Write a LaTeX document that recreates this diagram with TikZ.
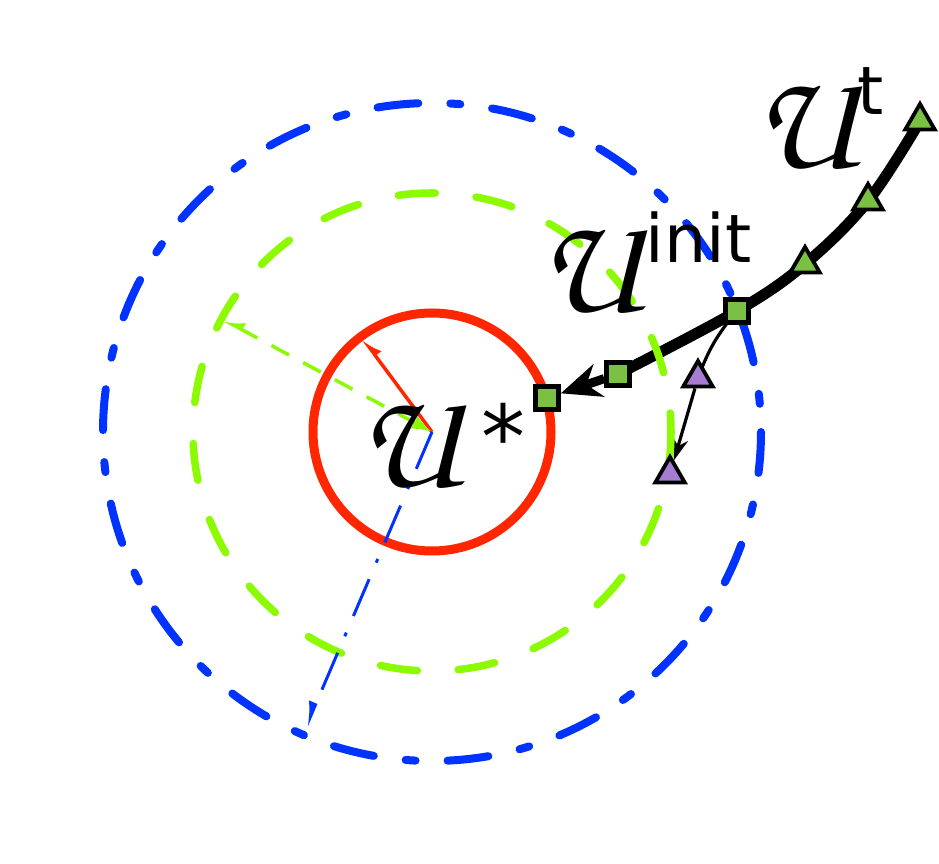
\documentclass[tikz,border=0pt]{standalone}
\usepackage{fontspec}
\newfontfamily\supsf{DejaVu Sans}
\usepackage{tikz}
\usetikzlibrary{arrows.meta}
\usetikzlibrary{shapes.geometric}

\definecolor{ringred}{RGB}{255,38,0}
\definecolor{ringgreen}{RGB}{140,250,0}
\definecolor{ringblue}{RGB}{0,51,255}
\definecolor{markgreen}{RGB}{122,193,67}
\definecolor{markpurple}{RGB}{166,124,210}

\newcommand{\calU}{{\usefont{OT1}{pzc}{mb}{it}U}}
\newcommand{\supf}{\supsf\fontsize{19}{22}\selectfont}

\pgfdeclarelayer{back}
\pgfsetlayers{back,main}

\tikzset{
    sqmark/.style={draw, line width=0.045cm, fill=markgreen, minimum size=0.23cm, inner sep=0pt},
    trimark/.style={draw, line width=0.038cm, regular polygon, regular polygon sides=3,
        minimum size=0.34cm, inner sep=0pt},
    lbl/.style={inner sep=0pt, anchor=base west, font=\fontsize{40}{44}\selectfont},
}

\begin{document}
\begin{tikzpicture}[x=0.01cm, y=-0.01cm]
            \useasboundingbox (0, 0) rectangle (939, 864);
            \coordinate (ustar) at (432, 432);

            % level sets round U*
            \draw[ringblue, line width=0.08cm, line cap=round,
                dash pattern=on 0.41cm off 0.32cm on 0.1cm off 0.32cm] (ustar) circle [radius=329];
            \draw[ringgreen, line width=0.075cm, line cap=round,
                dash pattern=on 0.37cm off 0.41cm] (ustar) circle [radius=239];
            \draw[ringred, line width=0.09cm] (ustar) circle [radius=119];

            % radii
            \coordinate (rtip) at (363, 339);
            \coordinate (gtip) at (224, 320);
            \coordinate (btip) at (306, 727);
            \draw[ringred, line width=0.035cm, -{Latex[harpoon, swap, length=0.16cm, width=0.16cm]}]
                (ustar) -- (rtip);
            \draw[ringgreen, line width=0.035cm, dash pattern=on 0.2cm off 0.16cm,
                {Latex[length=0.2cm, width=0.14cm]}-{Latex[harpoon, swap, length=0.16cm, width=0.16cm]}]
                (ustar) -- (gtip);
            \draw[ringblue, line width=0.03cm, dash pattern=on 0.4cm off 0.18cm on 0.04cm off 0.18cm,
                -{Latex[harpoon, swap, length=0.2cm, width=0.16cm]}] (ustar) -- (btip);

            % iterates
            \node[sqmark] (s1) at (737, 311) {};
            \node[sqmark] (s2) at (618, 374) {};
            \node[sqmark] (s3) at (547, 398) {};
            \node[trimark, fill=markgreen] (t1) at (920, 121) {};
            \node[trimark, fill=markgreen] (t2) at (868, 201) {};
            \node[trimark, fill=markgreen] (t3) at (805, 264) {};
            \node[trimark, fill=markpurple] (p1) at (698, 378) {};
            \node[trimark, fill=markpurple] (p2) at (670, 474) {};

            \begin{pgfonlayer}{back}
                \draw[line width=0.11cm] plot[smooth, tension=0.6] coordinates
                    {(t1.center) (t2.center) (t3.center) (s1.center) (s2.center)};
                \draw[line width=0.09cm, -{Stealth[length=0.4cm, width=0.34cm]}] (s2) -- (s3);
                \draw[line width=0.032cm] (s1.center) to[bend right=10] (p1.center);
                \draw[line width=0.032cm, -{Stealth[length=0.22cm, width=0.16cm]}] (p1) -- (p2);
            \end{pgfonlayer}

            % labels
            \node[lbl] (lt) at (753, 168) {\calU\raisebox{0.53cm}{\supf t}};
            \node[lbl] (linit) at (538, 312) {\calU\kern0.03cm\raisebox{0.49cm}{\supf init}};
            \node[lbl] (lstar) at (357, 487) {\calU\kern0.2cm\raisebox{0.18cm}{\supsf\fontsize{25}{28}\selectfont *}};
\end{tikzpicture}
\end{document}
